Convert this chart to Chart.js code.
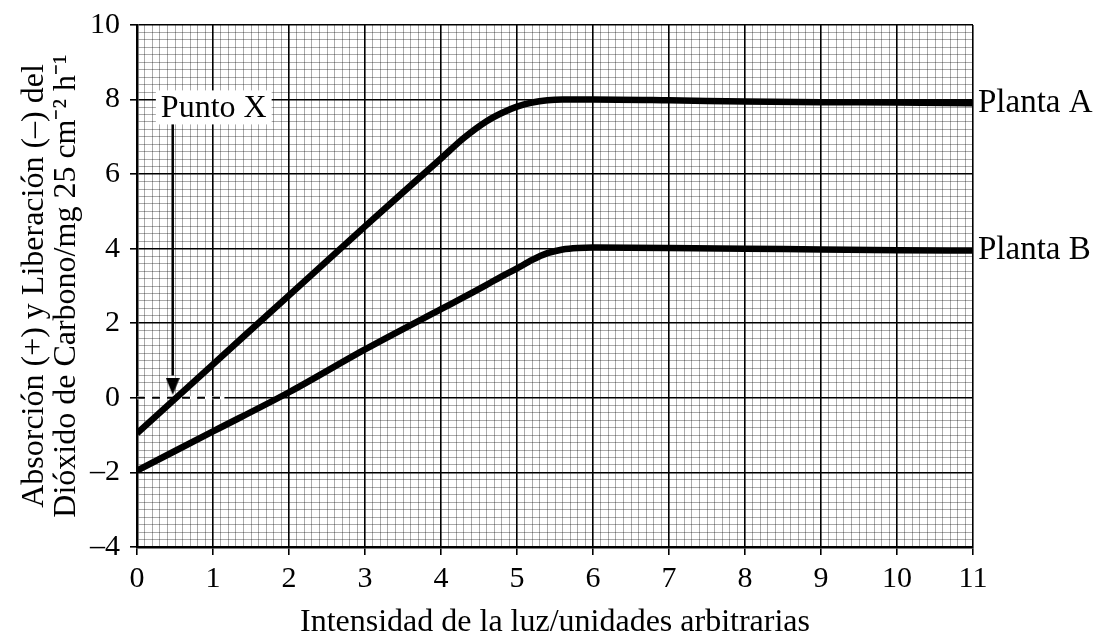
<!DOCTYPE html>
<html><head><meta charset="utf-8">
<script src="https://cdn.jsdelivr.net/npm/chart.js@4.4.1/dist/chart.umd.min.js"></script>
<style>html,body{margin:0;padding:0;background:#fff}canvas{display:block}</style>
</head><body>
<canvas id="c" width="1096" height="644"></canvas>
<script>
// ---- data ----
const lightIntensity = [0, 1, 2, 3, 4, 4.3, 4.6, 4.8, 5, 5.2, 5.4, 5.6, 5.8, 6, 7, 8, 9, 10, 11];
const plantaA = [-0.95, 0.9, 2.75, 4.6, 6.42, 6.97, 7.42, 7.64, 7.81, 7.92, 7.98, 8.0, 8.0, 8.0, 7.98, 7.95, 7.93, 7.92, 7.9];
const plantaB = [-1.95, -0.9, 0.15, 1.3, 2.38, 2.7, 3.03, 3.26, 3.47, 3.7, 3.88, 3.98, 4.02, 4.03, 4.02, 4.0, 3.98, 3.96, 3.95];
const seriesNames = ['Planta A', 'Planta B'];
const xTickLabels = ['0','1','2','3','4','5','6','7','8','9','10','11'];
const yTickLabels = ['–4','–2','0','2','4','6','8','10'];
const xTitle = 'Intensidad de la luz/unidades arbitrarias';
const yTitle = ['Absorción (+) y Liberación (–) del', 'Dióxido de Carbono/mg 25 cm⁻² h⁻¹'];
const puntoXLabel = 'Punto X';
const puntoXArrowX = [0.47, 0.47];
const puntoXArrowY = [7.45, 0.6];
const puntoXTip = 0.08;
const puntoXLabelPos = [1.01, 7.79];
const zeroDashX = [0, 1.15];
const zeroDashY = [0, 0];

const pts = (xs, ys) => xs.map((x, i) => ({x, y: ys[i]}));
const isMajorX = v => Math.abs(v - Math.round(v)) < 1e-6;
const isMajorY = v => Math.abs(v / 2 - Math.round(v / 2)) < 1e-6;
const serif = 'Liberation Serif';

// narrow arrowhead image, tip at the image centre
const head = document.createElement('canvas');
head.width = 14; head.height = 34;
{
  const h = head.getContext('2d');
  h.fillStyle = '#000';
  h.beginPath(); h.moveTo(0, 0); h.lineTo(14, 0); h.lineTo(7, 17); h.closePath(); h.fill();
}

const labelsPlugin = {
  id: 'labels',
  afterDatasetsDraw(chart) {
    const {ctx, chartArea, scales: {x, y}} = chart;
    ctx.save();
    ctx.font = '33px "' + serif + '"';
    ctx.fillStyle = '#000';
    ctx.textBaseline = 'middle';
    ctx.textAlign = 'left';
    ctx.fillText(seriesNames[0], chartArea.right + 5, y.getPixelForValue(plantaA[plantaA.length - 1]));
    ctx.fillText(seriesNames[1], chartArea.right + 5, y.getPixelForValue(plantaB[plantaB.length - 1]));
    ctx.font = '32px "' + serif + '"';
    const px = x.getPixelForValue(puntoXLabelPos[0]);
    const py = y.getPixelForValue(puntoXLabelPos[1]);
    const w = ctx.measureText(puntoXLabel).width;
    ctx.fillStyle = '#fff';
    ctx.fillRect(px - w / 2 - 5, py - 17, w + 10, 34);
    ctx.fillStyle = '#000';
    ctx.textAlign = 'center';
    ctx.fillText(puntoXLabel, px, py + 1);
    ctx.restore();
  }
};

const lineDs = (label, ys) => ({
  label, data: pts(lightIntensity, ys), borderColor: '#000', borderWidth: 6.5,
  pointRadius: 0, cubicInterpolationMode: 'monotone', borderCapStyle: 'butt', borderJoinStyle: 'round', fill: false
});

new Chart(document.getElementById('c'), {
  type: 'line',
  data: {
    datasets: [
      lineDs(seriesNames[0], plantaA),
      lineDs(seriesNames[1], plantaB),
      {label: 'head', data: [{x: puntoXArrowX[0], y: puntoXTip}], showLine: false, pointStyle: head, pointRadius: 8, borderWidth: 0},
      {label: 'shaft', data: pts(puntoXArrowX, puntoXArrowY), borderColor: '#000', borderWidth: 2.5, pointRadius: 0},
      {label: 'dash', data: pts(zeroDashX, zeroDashY), borderColor: '#000', borderWidth: 2, borderDash: [8, 7], pointRadius: 0},
      {label: 'dashbg', data: pts(zeroDashX, zeroDashY), borderColor: '#fff', borderWidth: 3, pointRadius: 0}
    ]
  },
  options: {
    responsive: false, animation: false, devicePixelRatio: 1,
    layout: {padding: {top: 16, right: 123, bottom: 0, left: 0}},
    plugins: {legend: {display: false}, tooltip: {enabled: false}},
    scales: {
      x: {
        type: 'linear', min: 0, max: 11,
        ticks: {stepSize: 0.1, autoSkip: false, maxRotation: 0, minRotation: 0, padding: 9, color: '#000',
          font: {family: serif, size: 30, lineHeight: 1},
          callback: v => isMajorX(v) ? xTickLabels[Math.round(v)] : ''},
        grid: {
          color: c => isMajorX(c.tick.value) ? '#000' : 'rgba(0,0,0,0.42)',
          lineWidth: c => isMajorX(c.tick.value) ? 1.6 : 0.8,
          tickColor: c => isMajorX(c.tick.value) ? '#000' : 'rgba(0,0,0,0)',
          tickLength: 8, tickWidth: 1.6
        },
        border: {color: '#000', width: 2.5},
        title: {display: true, text: xTitle, color: '#000', font: {family: serif, size: 32, lineHeight: 1.2}, padding: {top: 0, bottom: 2}},
        afterFit: s => { s.height = 97; }
      },
      y: {
        type: 'linear', min: -4, max: 10,
        ticks: {stepSize: 0.2, autoSkip: false, padding: 10, color: '#000',
          font: {family: serif, size: 30, lineHeight: 1},
          callback: v => isMajorY(v) ? yTickLabels[Math.round((v + 4) / 2)] : ''},
        grid: {
          color: c => isMajorY(c.tick.value) ? '#000' : 'rgba(0,0,0,0.42)',
          lineWidth: c => isMajorY(c.tick.value) ? 1.6 : 0.8,
          tickColor: c => isMajorY(c.tick.value) ? '#000' : 'rgba(0,0,0,0)',
          tickLength: 7, tickWidth: 1.6
        },
        border: {color: '#000', width: 2.5},
        title: {display: true, text: yTitle, color: '#000', font: {family: serif, size: 32, lineHeight: 1}, padding: {top: 19, bottom: 0}},
        afterFit: s => { s.width = 137; }
      }
    }
  },
  plugins: [labelsPlugin]
});
</script>
</body></html>
